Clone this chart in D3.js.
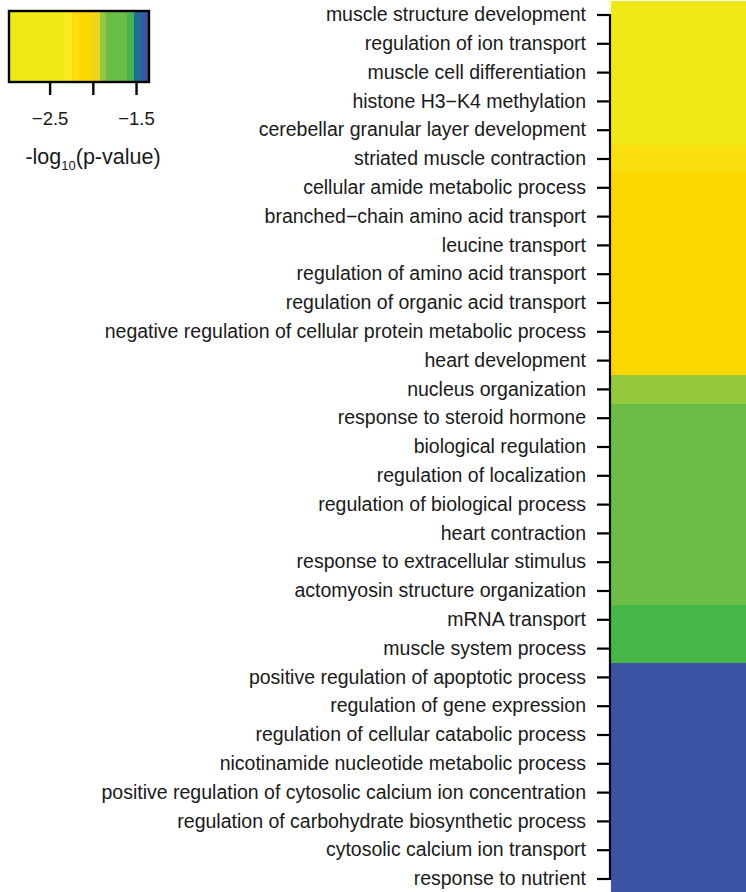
<!DOCTYPE html>
<html>
<head>
<meta charset="utf-8">
<script src="https://cdn.jsdelivr.net/npm/d3@7"></script>
<style>
  html, body { margin: 0; padding: 0; background: #fff; }
  svg { display: block; }
  text { font-family: "Liberation Sans", Arial, Helvetica, sans-serif; fill: #1a1a1a; }
</style>
</head>
<body>
<svg id="chart" width="746" height="892"></svg>
<script>
// GO terms, top to bottom
const terms = [
  "muscle structure development",
  "regulation of ion transport",
  "muscle cell differentiation",
  "histone H3\u2212K4 methylation",
  "cerebellar granular layer development",
  "striated muscle contraction",
  "cellular amide metabolic process",
  "branched\u2212chain amino acid transport",
  "leucine transport",
  "regulation of amino acid transport",
  "regulation of organic acid transport",
  "negative regulation of cellular protein metabolic process",
  "heart development",
  "nucleus organization",
  "response to steroid hormone",
  "biological regulation",
  "regulation of localization",
  "regulation of biological process",
  "heart contraction",
  "response to extracellular stimulus",
  "actomyosin structure organization",
  "mRNA transport",
  "muscle system process",
  "positive regulation of apoptotic process",
  "regulation of gene expression",
  "regulation of cellular catabolic process",
  "nicotinamide nucleotide metabolic process",
  "positive regulation of cytosolic calcium ion concentration",
  "regulation of carbohydrate biosynthetic process",
  "cytosolic calcium ion transport",
  "response to nutrient"
];

// log10(p-value) per term
const logP = [
  -2.62, -2.62, -2.62, -2.62, -2.62,
  -2.20,
  -2.09, -2.09, -2.09, -2.09, -2.09, -2.09, -2.09,
  -1.88,
  -1.72, -1.72, -1.72, -1.72, -1.72, -1.72, -1.72,
  -1.56, -1.56,
  -1.40, -1.40, -1.40, -1.40, -1.40, -1.40, -1.40, -1.40
];

// colour bins of the key
const binBreaks = [-2.336, -2.244, -2.167, -2.014, -1.925, -1.848, -1.607, -1.523, -1.439];
const binColors = ["#F1E817", "#F6EA21", "#FBDE0E", "#FDD700", "#EED519",
                   "#95C93D", "#6BBD45", "#47B649", "#1D6F95", "#3A53A4"];

// key range and ticks
const keyDomain = [-2.97, -1.35];
const keyTicks = [-2.5, -2.0, -1.5];
const keyTickLabels = ["\u22122.5", "", "\u22121.5"];

const svg = d3.select("#chart");
const color = d3.scaleThreshold().domain(binBreaks).range(binColors);

// ---- heatmap column ----
const y = d3.scaleBand().domain(terms).range([0.6, 893.4]).padding(0);
const x = d3.scaleBand().domain(["value"]).range([611, 760]);

svg.append("g")
  .attr("shape-rendering", "crispEdges")
  .selectAll("rect")
  .data(terms)
  .join("rect")
  .attr("x", x("value"))
  .attr("y", d => y(d))
  .attr("width", x.bandwidth())
  .attr("height", y.bandwidth() + 1)
  .attr("fill", (d, i) => color(logP[i]));

// row axis
const axis = d3.axisLeft(y).tickSize(13).tickPadding(11).tickSizeOuter(0);
const gAxis = svg.append("g")
  .attr("transform", "translate(610,0)")
  .call(axis);
gAxis.select(".domain").remove();
gAxis.selectAll(".tick line").attr("stroke", "#000").attr("stroke-width", 2.2);
gAxis.selectAll(".tick text")
  .style("font-size", "19.5px")
  .style("font-family", "'Liberation Sans', Arial, sans-serif")
  .attr("fill", "#1a1a1a");
const yFirst = y(terms[0]) + y.bandwidth() / 2;
const yLast = y(terms[terms.length - 1]) + y.bandwidth() / 2;
gAxis.append("line")
  .attr("x1", 0).attr("x2", 0)
  .attr("y1", yFirst - 1.1).attr("y2", yLast + 1.1)
  .attr("stroke", "#000").attr("stroke-width", 2.2);

// ---- colour key ----
const kx = d3.scaleLinear().domain(keyDomain).range([9, 149]);
const keyTop = 11, keyBottom = 82;
const steps = d3.range(keyDomain[0], keyDomain[1], 0.005);
const key = svg.append("g");
key.append("g")
  .attr("shape-rendering", "crispEdges")
  .selectAll("rect.k")
  .data(steps)
  .join("rect")
  .attr("class", "k")
  .attr("x", d => kx(d))
  .attr("y", keyTop)
  .attr("width", kx(keyDomain[0] + 0.0055) - kx(keyDomain[0]) + 1)
  .attr("height", keyBottom - keyTop)
  .attr("fill", d => color(d));
key.append("rect")
  .attr("x", kx(keyDomain[0])).attr("y", keyTop)
  .attr("width", kx(keyDomain[1]) - kx(keyDomain[0]))
  .attr("height", keyBottom - keyTop)
  .attr("fill", "none").attr("stroke", "#000").attr("stroke-width", 2.4);

const kAxis = d3.axisBottom(kx)
  .tickValues(keyTicks)
  .tickFormat((d, i) => keyTickLabels[i])
  .tickSize(12).tickPadding(0).tickSizeOuter(0);
const gK = svg.append("g")
  .attr("transform", `translate(0,${keyBottom + 1})`)
  .call(kAxis);
gK.select(".domain").remove();
gK.selectAll(".tick line").attr("stroke", "#000").attr("stroke-width", 2.4);
gK.selectAll(".tick text")
  .attr("y", 42).attr("dy", 0)
  .style("font-size", "18.5px")
  .style("font-family", "'Liberation Sans', Arial, sans-serif")
  .attr("fill", "#1a1a1a");

const title = svg.append("text")
  .attr("x", 93).attr("y", 164)
  .attr("text-anchor", "middle")
  .style("font-size", "21.5px");
title.append("tspan").text("-log");
title.append("tspan").attr("dy", 6).style("font-size", "13px").text("10");
title.append("tspan").attr("dy", -6).text("(p-value)");
</script>
</body>
</html>
